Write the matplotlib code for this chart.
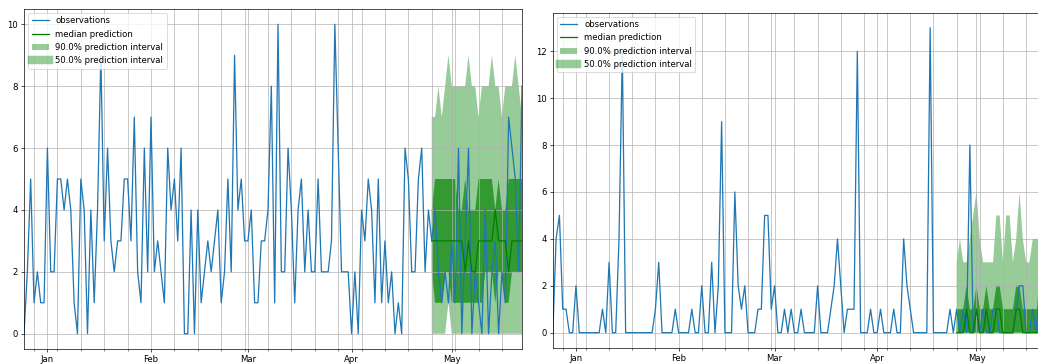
import matplotlib
matplotlib.use('Agg')
import pandas as pd
import matplotlib.pyplot as plt
import matplotlib.dates as mdates
from matplotlib.lines import Line2D
from matplotlib.patches import Patch

# Output scale: the reference looks like a 72 dpi notebook figure shrunk a bit
DPI = 61
W, H = 1038, 364

# Dates: 150 daily points, the last 28 are the forecast window
dates = pd.date_range('2015-12-25', periods=150, freq='D')
fc_dates = dates[-28:]

# Left series
obs_a = [0, 2, 5, 1, 2, 1, 1, 6, 2, 2, 5, 5, 4, 5, 4, 1, 0, 5, 4, 0,
         4, 1, 4, 9, 3, 6, 3, 2, 3, 3, 5, 5, 3, 7, 2, 1, 6, 2, 7, 2,
         3, 2, 1, 6, 4, 5, 3, 6, 0, 0, 4, 0, 4, 1, 2, 3, 2, 3, 4, 1,
         2, 5, 2, 9, 4, 5, 3, 3, 4, 1, 1, 3, 3, 4, 8, 1, 10, 2, 2, 6,
         4, 1, 4, 5, 2, 4, 2, 2, 5, 2, 2, 2, 3, 10, 6, 2, 2, 2, 0, 2,
         0, 4, 3, 5, 4, 1, 5, 1, 3, 1, 2, 0, 1, 0, 6, 5, 2, 2, 5, 6,
         2, 4, 3, 4, 2, 1, 2, 1, 3, 1, 6, 0, 3, 6, 0, 2, 1, 0, 4, 0,
         2, 3, 0, 2, 1, 7, 6, 5, 2, 8]
med_a = [3, 3, 3, 3, 3, 3, 3, 3, 3, 3, 2, 3, 2, 2, 3, 3, 3, 3, 3, 4,
         3, 3, 3, 2, 3, 3, 3, 3]
lo50_a = [2, 1, 1, 1, 2, 2, 1, 1, 1, 1, 1, 1, 1, 1, 1, 1, 2, 2, 2, 1,
          2, 2, 1, 1, 2, 2, 2, 2]
hi50_a = [4, 5, 5, 5, 5, 5, 5, 5, 4, 4, 5, 4, 4, 4, 5, 5, 5, 5, 5, 4,
          5, 4, 4, 5, 5, 5, 5, 5]
lo90_a = [0, 0, 0, 0, 0, 1, 0, 0, 0, 0, 0, 0, 0, 0, 0, 0, 0, 0, 0, 0,
          0, 0, 0, 0, 0, 0, 0, 0]
hi90_a = [7, 7, 8, 7, 8, 9, 8, 8, 8, 8, 8, 9, 8, 8, 7, 8, 8, 8, 9, 8,
          8, 7, 8, 8, 8, 9, 8, 7]

# Right series
obs_b = [0, 4, 5, 1, 1, 0, 0, 2, 0, 0, 0, 0, 0, 0, 0, 1, 0, 3, 0, 0,
         4, 12, 0, 0, 0, 0, 0, 0, 0, 0, 0, 1, 3, 0, 0, 0, 0, 1, 0, 0,
         0, 0, 1, 0, 0, 2, 0, 0, 3, 0, 2, 9, 0, 0, 0, 6, 2, 1, 2, 0,
         0, 0, 1, 1, 5, 5, 1, 2, 0, 0, 1, 0, 1, 0, 0, 1, 0, 0, 0, 0,
         2, 0, 0, 0, 1, 2, 4, 2, 0, 1, 1, 1, 12, 0, 0, 0, 1, 0, 0, 1,
         0, 0, 0, 1, 0, 0, 4, 2, 1, 0, 0, 0, 0, 0, 13, 0, 0, 0, 0, 0,
         1, 0, 1, 0, 1, 0, 8, 0, 1, 0, 1, 0, 0, 1, 1, 0, 0, 0, 0, 0,
         1, 2, 2, 0, 0, 1, 0, 2, 0, 1]
med_b = [0, 0, 0, 1, 0, 0, 1, 0, 0, 1, 0, 0, 1, 1, 0, 0, 0, 0, 1, 1,
         0, 0, 0, 0, 0, 0, 0, 0]
lo50_b = [0] * 28
hi50_b = [1, 1, 1, 2, 1, 1, 2, 1, 1, 2, 1, 1, 2, 2, 1, 1, 1, 1, 2, 2,
          1, 1, 1, 1, 1, 1, 1, 1]
lo90_b = [0] * 28
hi90_b = [3, 4, 3, 3, 4, 5, 6, 4, 3, 3, 3, 3, 5, 5, 3, 5, 5, 3, 4, 6,
          4, 3, 3, 4, 4, 4, 3, 3]

intervals = [90.0, 50.0]
legend_labels = ['observations', 'median prediction'] + \
    [f'{k}% prediction interval' for k in intervals]

alpha90 = 0.05 ** 0.3
alpha50 = 0.25 ** 0.3


def plot_forecast(ax, obs, med, lo50, hi50, lo90, hi90):
    ax.plot(dates, obs, color='#1f77b4')
    ax.fill_between(fc_dates, lo90, hi90, facecolor='g', alpha=alpha90, interpolate=True)
    ax.fill_between(fc_dates, lo50, hi50, facecolor='g', alpha=alpha50, interpolate=True)
    ax.plot(fc_dates, med, color='g')
    ax.set_xlim(dates[0], dates[-1])

    ax.xaxis.set_major_locator(mdates.MonthLocator())
    ax.xaxis.set_major_formatter(mdates.DateFormatter('%b'))
    ax.xaxis.set_minor_locator(mdates.WeekdayLocator(byweekday=mdates.MO))
    ax.grid(which='both')

    handles = [Line2D([], [], color='#1f77b4'),
               Line2D([], [], color='g'),
               Patch(facecolor='g', edgecolor='none', alpha=alpha90),
               Line2D([], [], color='g', alpha=alpha90, linewidth=10)]
    ax.legend(handles, legend_labels, loc='upper left')


fig = plt.figure(figsize=(W / DPI, H / DPI), dpi=DPI)
ax1 = fig.add_axes([24 / W, 1 - 349.2 / H, 498 / W, 340.4 / H])
ax2 = fig.add_axes([552.8 / W, 1 - 347.9 / H, 493.2 / W, 335.3 / H])

plot_forecast(ax1, obs_a, med_a, lo50_a, hi50_a, lo90_a, hi90_a)
plot_forecast(ax2, obs_b, med_b, lo50_b, hi50_b, lo90_b, hi90_b)

fig.savefig('out.png', dpi=DPI)
